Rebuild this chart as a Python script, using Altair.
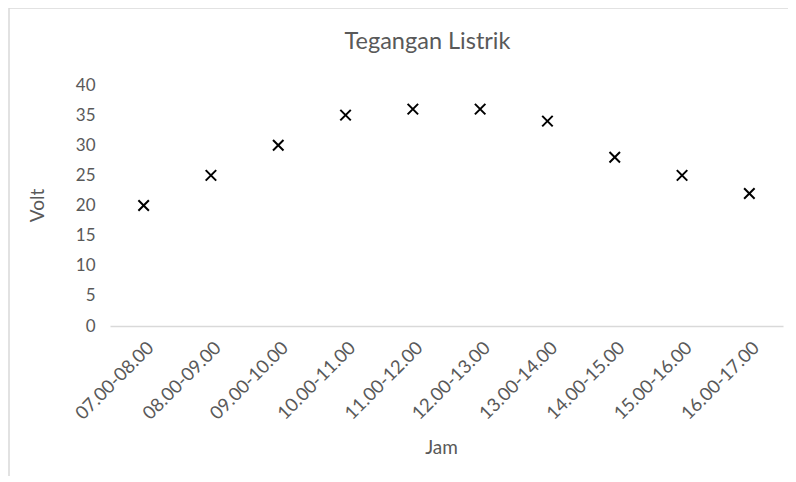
import altair as alt
import pandas as pd

jam = ["07.00-08.00", "08.00-09.00", "09.00-10.00", "10.00-11.00", "11.00-12.00",
       "12.00-13.00", "13.00-14.00", "14.00-15.00", "15.00-16.00", "16.00-17.00"]
volt = [20, 25, 30, 35, 36, 36, 34, 28, 25, 22]

df = pd.DataFrame({"Jam": jam, "Volt": volt})

FONT = "Lato"
GRAY = "#595959"

frame = alt.Chart(alt.Data(values=[{"a": 1}])).mark_rect(
    fill=None, stroke="#d9d9d9", strokeWidth=1.5
).encode(
    x=alt.value(-101), x2=alt.value(800),
    y=alt.value(-77), y2=alt.value(600)
)

points = alt.Chart(df).mark_point(
    shape="M-1,-1L1,1M-1,1L1,-1", filled=False, stroke="black",
    strokeWidth=2, size=110, opacity=1
).encode(
    x=alt.X("Jam:N", sort=jam,
            scale=alt.Scale(paddingInner=0, paddingOuter=0),
            axis=alt.Axis(title="Jam", labelAngle=-45, labelAlign="right",
                          labelBaseline="top", labelPadding=12, ticks=False,
                          domainColor="#d9d9d9", domainWidth=1.5,
                          labelFont=FONT, labelFontSize=18.5, labelColor=GRAY,
                          titleFont=FONT, titleFontSize=19, titleColor=GRAY,
                          titleFontWeight="normal", titleX=331, titleY=121,
                          titleBaseline="middle", titleAlign="center")),
    y=alt.Y("Volt:Q", scale=alt.Scale(domain=[0, 40], nice=False),
            axis=alt.Axis(title="Volt", values=[0, 5, 10, 15, 20, 25, 30, 35, 40],
                          grid=False, ticks=False, domain=False, labelPadding=15,
                          labelFont=FONT, labelFontSize=17, labelColor=GRAY,
                          titleFont=FONT, titleFontSize=19, titleColor=GRAY,
                          titleFontWeight="normal", titleAngle=-90,
                          titleX=-73, titleY=120, titleBaseline="middle",
                          titleAlign="center"))
)

chart = alt.layer(frame, points).properties(
    width=673, height=241,
    title=alt.TitleParams("Tegangan Listrik", font=FONT, fontSize=23.5,
                          fontWeight="normal", color=GRAY, anchor="middle",
                          frame="group", baseline="bottom", offset=30,
                          dy=100, dx=-19),
    autosize=alt.AutoSizeParams(type="none"),
    padding={"left": 102, "top": 77, "right": 5, "bottom": 150}
).configure_view(stroke=None)

chart.save("out.html", embed_options={"renderer": "svg", "actions": False})
